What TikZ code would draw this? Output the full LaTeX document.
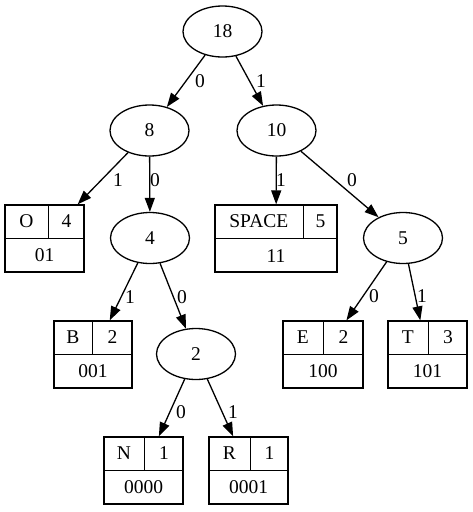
\documentclass[tikz,border=0pt]{standalone}
\usepackage{fontspec}
\setmainfont{Liberation Serif}
\usetikzlibrary{positioning, arrows.meta, shapes.geometric, calc}
\tikzstyle{arrow} = [-{Triangle[length=14pt, width=10pt]}]
\tikzstyle{weight} = [ellipse, draw, minimum width=79pt, minimum height=51pt, inner sep=0pt]
\tikzstyle{leaf} = [rectangle, draw, minimum height=67pt, inner sep=0pt]
\tikzstyle{bit} = [inner sep=0pt]

% leaf record: name, centre, width, width of the symbol cell, symbol, count, code
\newcommand{\leafrec}[7]{%
  \node (#1) [leaf, minimum width=#3pt] at (#2) {};
  \coordinate (#1-t) at ([xshift=#4pt]#1.north west);
  \coordinate (#1-m) at ([xshift=#4pt]#1.west);
  \draw (#1.west) -- (#1.east);
  \draw (#1-t) -- (#1-m);
  \node (#1-sym) [bit] at ($(#1.north west)!0.5!(#1-m)$) {#5};
  \node (#1-cnt) [bit] at ($(#1-t)!0.5!(#1.east)$) {#6};
  \node (#1-code) [bit] at ($(#1.west)!0.5!(#1.south east)$) {#7};
}

\begin{document}
\begin{tikzpicture}[x=1pt, y=-1pt, line width=1.3pt, font=\fontsize{19.5}{22}\selectfont]
        \useasboundingbox (0,0) rectangle (473,512);

        \node (n18) [weight] at (222.5,31.5) {18};
        \node (n8) [weight] at (149.5,130.5) {8};
        \node (n10) [weight] at (276.5,130.5) {10};
        \node (n4) [weight] at (150,238) {4};
        \node (n5) [weight] at (403,238) {5};
        \node (n2) [weight] at (196,354) {2};

        \leafrec{O}{44.5,238.5}{79}{44}{O}{4}{01}
        \leafrec{SPACE}{276,238.5}{122}{89}{SPACE}{5}{11}
        \leafrec{B}{93,354.5}{78}{39}{B}{2}{001}
        \leafrec{E}{323,354.5}{80}{41}{E}{2}{100}
        \leafrec{T}{427.5,354.5}{79}{41}{T}{3}{101}
        \leafrec{N}{143.5,470.5}{79}{41}{N}{1}{0000}
        \leafrec{R}{248.5,470.5}{79}{42}{R}{1}{0001}

        \draw [arrow] (n18) -- (n8);
        \draw [arrow] (n18) -- (n10);
        \draw [arrow] (n8) -- (O);
        \draw [arrow] (n8) -- (n4);
        \draw [arrow] (n10) -- (SPACE);
        \draw [arrow] (n10) -- (n5);
        \draw [arrow] (n4) -- (B);
        \draw [arrow] (n4) -- (n2);
        \draw [arrow] (n5) -- (E);
        \draw [arrow] (n5) -- (T);
        \draw [arrow] (n2) -- (N);
        \draw [arrow] (n2) -- (R);

        \node (b18-8) [bit] at (200,81) {0};
        \node (b18-10) [bit] at (261,81) {1};
        \node (b8-O) [bit] at (118,180) {1};
        \node (b8-4) [bit] at (155,180) {0};
        \node (b10-SPACE) [bit] at (281,180) {1};
        \node (b10-5) [bit] at (352,180) {0};
        \node (b4-B) [bit] at (130,297) {1};
        \node (b4-2) [bit] at (182,297) {0};
        \node (b5-E) [bit] at (374,296) {0};
        \node (b5-T) [bit] at (422,296) {1};
        \node (b2-N) [bit] at (181,412) {0};
        \node (b2-R) [bit] at (233,412) {1};

        \end{tikzpicture}
\end{document}
